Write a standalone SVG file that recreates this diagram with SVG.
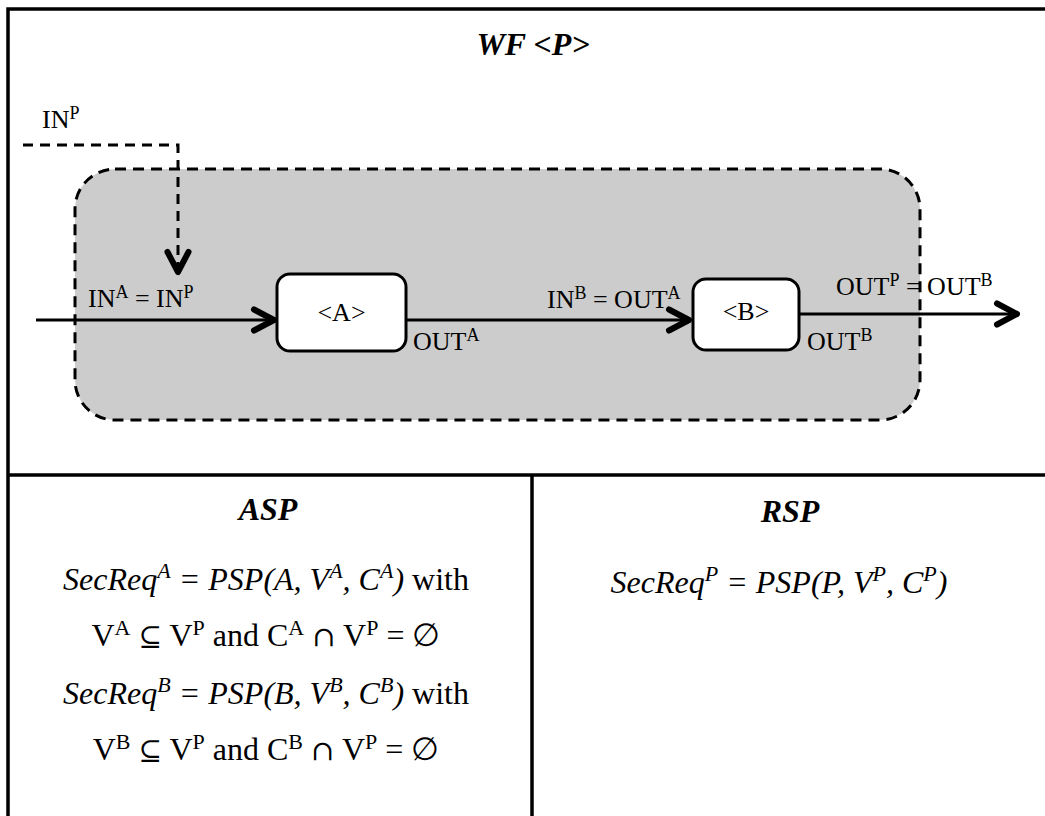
<svg xmlns="http://www.w3.org/2000/svg" width="1045" height="816" viewBox="0 0 1045 816">
  <style>
    .frame { stroke: #000; stroke-width: 3.5; fill: none; }
    .txt { font-family: "Liberation Serif", "DejaVu Serif", serif; fill: #000; }
    .lbl { font-size: 26px; }
    .sup26 { font-size: 18px; }
    .head { font-size: 32px; font-weight: bold; font-style: italic; }
    .math { font-size: 32px; }
    .sup32 { font-size: 22px; }
    .it { font-style: italic; }
    .sym { font-family: "DejaVu Serif", serif; font-size: 28px; }
    .conn { stroke: #000; stroke-width: 3; fill: none; }
    .dash { stroke-dasharray: 10 7; }
    .task { fill: #fff; stroke: #000; stroke-width: 3; }
    .wf { fill: #cccccc; stroke: #000; stroke-width: 3; stroke-dasharray: 11 7; }
  </style>
  <defs>
    <marker id="chev" markerUnits="userSpaceOnUse" viewBox="-28 -16 34 32" markerWidth="34" markerHeight="32" refX="0" refY="0" orient="auto" overflow="visible">
      <path d="M-20,-10.5 L0,0 L-20,10.5" fill="none" stroke="#000" stroke-width="6" stroke-linecap="round" stroke-linejoin="round"/>
    </marker>
  </defs>

  <rect width="1045" height="816" fill="#fff"/>

  <!-- table frame -->
  <g id="frame">
    <path class="frame" d="M8,816 V9 H1045"/>
    <path class="frame" d="M8,475 H1045"/>
    <path class="frame" d="M532,475 V816"/>
  </g>

  <text class="txt head" x="533" y="55" text-anchor="middle">WF &lt;P&gt;</text>

  <!-- workflow container P -->
  <g id="wf-P">
    <rect class="wf" x="75" y="169" width="845" height="251" rx="40" ry="40"/>
  </g>

  <!-- connectors -->
  <g id="connectors">
    <path class="conn" d="M36,320 H274" marker-end="url(#chev)"/>
    <path class="conn dash" d="M23,145 H178 V272" marker-end="url(#chev)"/>
    <path class="conn" d="M406,320 H689" marker-end="url(#chev)"/>
    <path class="conn" d="M800,314 H1017" marker-end="url(#chev)"/>
  </g>

  <!-- task A -->
  <g id="task-A">
    <rect class="task" x="277" y="274" width="129" height="77" rx="13" ry="13"/>
    <text class="txt lbl" x="341.5" y="321" text-anchor="middle">&lt;A&gt;</text>
  </g>

  <!-- task B -->
  <g id="task-B">
    <rect class="task" x="693" y="279" width="106" height="71" rx="13" ry="13"/>
    <text class="txt lbl" x="746" y="320" text-anchor="middle">&lt;B&gt;</text>
  </g>

  <!-- port labels -->
  <g id="labels">
    <text class="txt lbl" x="42" y="128">IN<tspan class="sup26" dy="-9">P</tspan></text>
    <text class="txt lbl" x="88" y="307">IN<tspan class="sup26" dy="-9">A</tspan><tspan dy="9"> = IN</tspan><tspan class="sup26" dy="-9">P</tspan></text>
    <text class="txt lbl" x="413" y="350">OUT<tspan class="sup26" dy="-9">A</tspan></text>
    <text class="txt lbl" x="547" y="308">IN<tspan class="sup26" dy="-9">B</tspan><tspan dy="9"> = OUT</tspan><tspan class="sup26" dy="-9">A</tspan></text>
    <text class="txt lbl" x="807" y="350">OUT<tspan class="sup26" dy="-9">B</tspan></text>
    <text class="txt lbl" x="836" y="295">OUT<tspan class="sup26" dy="-9">P</tspan><tspan dy="9"> = OUT</tspan><tspan class="sup26" dy="-9">B</tspan></text>
  </g>

  <!-- ASP cell -->
  <g id="asp">
    <text class="txt head" x="268" y="520" text-anchor="middle">ASP</text>
    <text class="txt math" x="266" y="590" text-anchor="middle"><tspan class="it">SecReq</tspan><tspan class="it sup32" dy="-12">A</tspan><tspan class="it" dy="12"> = PSP(A, V</tspan><tspan class="it sup32" dy="-12">A</tspan><tspan class="it" dy="12">, C</tspan><tspan class="it sup32" dy="-12">A</tspan><tspan class="it" dy="12">)</tspan> with</text>
    <text class="txt math" x="266" y="646" text-anchor="middle">V<tspan class="sup32" dy="-11">A</tspan><tspan dy="11"> </tspan><tspan class="sym">⊆</tspan> V<tspan class="sup32" dy="-11">P</tspan><tspan dy="11"> and C</tspan><tspan class="sup32" dy="-11">A</tspan><tspan dy="11"> </tspan><tspan class="sym">∩</tspan> V<tspan class="sup32" dy="-11">P</tspan><tspan dy="11"> = ∅</tspan></text>
    <text class="txt math" x="266" y="704" text-anchor="middle"><tspan class="it">SecReq</tspan><tspan class="it sup32" dy="-12">B</tspan><tspan class="it" dy="12"> = PSP(B, V</tspan><tspan class="it sup32" dy="-12">B</tspan><tspan class="it" dy="12">, C</tspan><tspan class="it sup32" dy="-12">B</tspan><tspan class="it" dy="12">)</tspan> with</text>
    <text class="txt math" x="266" y="760" text-anchor="middle">V<tspan class="sup32" dy="-11">B</tspan><tspan dy="11"> </tspan><tspan class="sym">⊆</tspan> V<tspan class="sup32" dy="-11">P</tspan><tspan dy="11"> and C</tspan><tspan class="sup32" dy="-11">B</tspan><tspan dy="11"> </tspan><tspan class="sym">∩</tspan> V<tspan class="sup32" dy="-11">P</tspan><tspan dy="11"> = ∅</tspan></text>
  </g>

  <!-- RSP cell -->
  <g id="rsp">
    <text class="txt head" x="790" y="522" text-anchor="middle">RSP</text>
    <text class="txt math" x="779" y="593" text-anchor="middle"><tspan class="it">SecReq</tspan><tspan class="it sup32" dy="-12">P</tspan><tspan class="it" dy="12"> = PSP(P, V</tspan><tspan class="it sup32" dy="-12">P</tspan><tspan class="it" dy="12">, C</tspan><tspan class="it sup32" dy="-12">P</tspan><tspan class="it" dy="12">)</tspan></text>
  </g>
</svg>
